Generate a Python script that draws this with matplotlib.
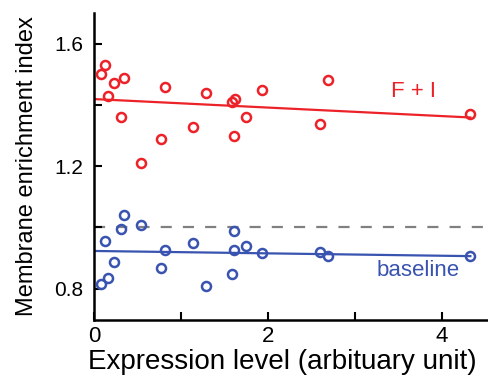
import numpy as np
import matplotlib
matplotlib.use("Agg")
import matplotlib.pyplot as plt

plt.rcParams["font.family"] = ["Liberation Sans", "DejaVu Sans"]

# F + I condition (red)
fi_x = [0.077, 0.123, 0.233, 0.341, 0.165, 0.314, 0.816, 0.540, 0.767, 1.134,
        1.291, 1.586, 1.621, 1.605, 1.751, 1.927, 2.693, 2.598, 4.326]
fi_y = [1.500, 1.531, 1.470, 1.489, 1.429, 1.359, 1.459, 1.209, 1.289, 1.329,
        1.440, 1.410, 1.420, 1.300, 1.359, 1.450, 1.480, 1.338, 1.369]
fi_fit = [1.419, -0.0139]  # intercept, slope

# baseline condition (blue)
base_x = [0.077, 0.165, 0.123, 0.233, 0.341, 0.314, 0.540, 0.816, 0.767, 1.134,
          1.291, 1.605, 1.605, 1.590, 1.751, 1.927, 2.598, 2.690, 4.326]
base_y = [0.816, 0.836, 0.957, 0.888, 1.039, 0.996, 1.008, 0.927, 0.866, 0.949,
          0.807, 0.988, 0.927, 0.847, 0.938, 0.917, 0.918, 0.905, 0.906]
base_fit = [0.923, -0.0039]

ref_level = 1.0

red = "#ec2228"
blue = "#3953b0"

fig = plt.figure(figsize=(4.88, 3.83), dpi=100)
ax = fig.add_axes([94 / 488, 63 / 383, 394 / 488, 307 / 383])

ax.axhline(ref_level, color="#808080", lw=1.6, dashes=(5, 5), zorder=1)

for xs, ys, fit, col in [(fi_x, fi_y, fi_fit, red), (base_x, base_y, base_fit, blue)]:
    xl = np.array([0, max(xs)])
    ax.plot(xl, fit[0] + fit[1] * xl, color=col, lw=1.6, zorder=2)
    ax.plot(xs, ys, "o", mfc="none", mec=col, mew=1.8, ms=6.5, zorder=3,
            clip_on=False)

ax.text(3.667, 1.443, "F + I", color=red, fontsize=16, ha="center", va="center")
ax.text(3.724, 0.858, "baseline", color=blue, fontsize=16, ha="center", va="center")

ax.set_xlim(0, 394 / 87)
ax.set_ylim(0.6976, 1.70)
ax.set_xticks([0, 1, 2, 3, 4])
ax.set_xticklabels(["0", "", "2", "", "4"])
ax.set_yticks([0.8, 1.0, 1.2, 1.4, 1.6])
ax.set_yticklabels(["0.8", "", "1.2", "", "1.6"])
ax.tick_params(direction="in", length=5.5, width=1.5)
ax.tick_params(axis="x", labelsize=16, pad=4)
ax.tick_params(axis="y", labelsize=15, pad=7.5)

for s in ["top", "right"]:
    ax.spines[s].set_visible(False)
for s in ["left", "bottom"]:
    ax.spines[s].set_linewidth(1.8)

ax.set_xlabel("Expression level (arbituary unit)", fontsize=20)
ax.xaxis.set_label_coords(0.477, -0.095)
ax.set_ylabel("Membrane enrichment index", fontsize=17, labelpad=12)

fig.savefig("out.png", dpi=100)
